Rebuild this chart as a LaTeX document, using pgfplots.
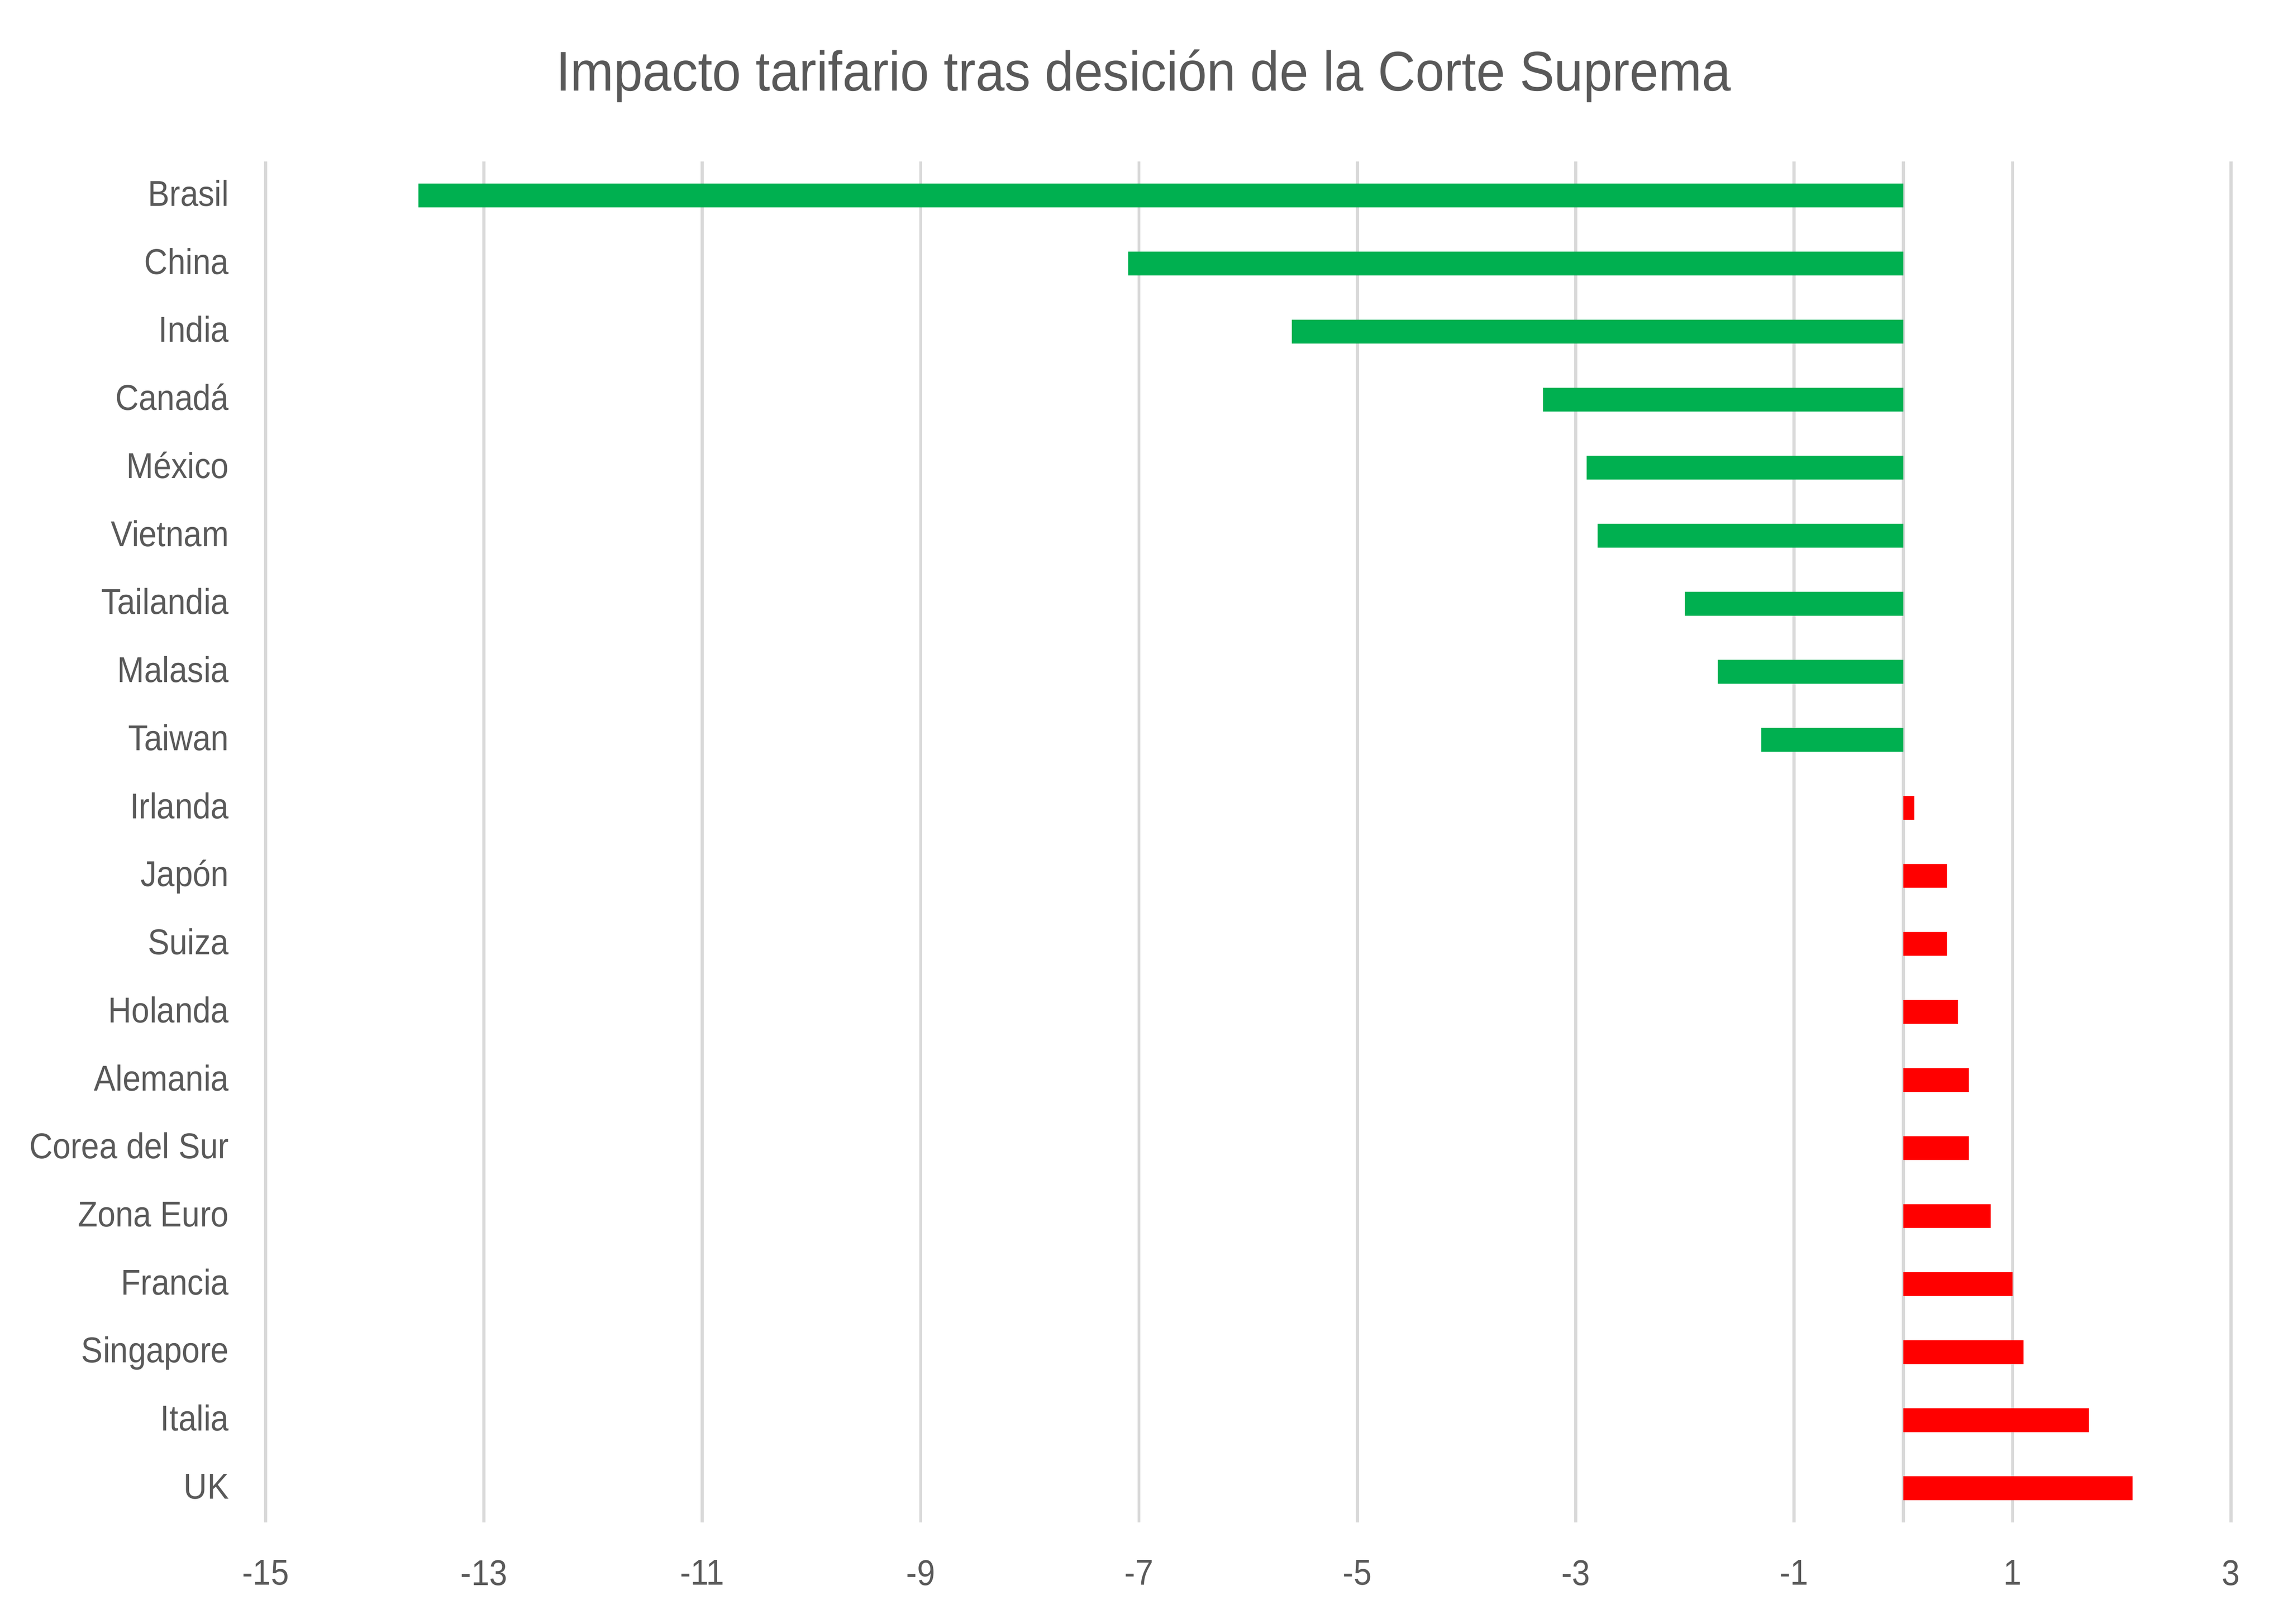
\documentclass[border=0pt]{standalone}
\usepackage{fontspec}
\setmainfont[FakeStretch=0.9]{Liberation Sans}
\newfontfamily\titlefont[FakeStretch=0.93]{Liberation Sans}
\usepackage{pgfplots}
\pgfplotsset{compat=1.18}
\definecolor{xgreen}{HTML}{00B050}
\definecolor{xred}{HTML}{FF0000}
\definecolor{gridgray}{HTML}{D9D9D9}
\definecolor{txt}{HTML}{595959}
\begin{document}
\begin{tikzpicture}
\useasboundingbox (-70.2bp,-26.9bp) rectangle (534.6bp,402.5bp);
\begin{axis}[
  scale only axis, width=519.5bp, height=359.8bp,
  xmin=-15, xmax=3, ymin=-0.5, ymax=19.5, y dir=reverse,
  xtick={-15,-13,-11,-9,-7,-5,-3,-1,1,3},
  xticklabels={-15,-13,-11,-9,-7,-5,-3,-1,1,3},
  extra x ticks={0}, extra x tick labels={},
  extra x tick style={grid=major},
  ytick={0,1,...,19},
  yticklabels={Brasil,China,India,Canadá,México,Vietnam,Tailandia,Malasia,Taiwan,Irlanda,Japón,Suiza,Holanda,Alemania,Corea del Sur,Zona Euro,Francia,Singapore,Italia,UK},
  xmajorgrids=true, ymajorgrids=false,
  major grid style={gridgray, line width=0.8bp},
  axis line style={draw=none},
  major tick length=0pt,
  tick label style={text=txt, font=\fontsize{9.5bp}{11bp}\selectfont, inner sep=0pt},
  xticklabel style={anchor=north, yshift=-9.8bp},
  yticklabel style={anchor=base east, xshift=-9.5bp, yshift=-2.8bp},
  clip=false,
]
\addplot[xbar, bar width=6.3bp, bar shift=0pt, fill=xgreen, draw=none] coordinates {
(-13.6,0) (-7.1,1) (-5.6,2) (-3.3,3) (-2.9,4) (-2.8,5) (-2.0,6) (-1.7,7) (-1.3,8)};
\addplot[xbar, bar width=6.3bp, bar shift=0pt, fill=xred, draw=none] coordinates {
(0.1,9) (0.4,10) (0.4,11) (0.5,12) (0.6,13) (0.6,14) (0.8,15) (1.0,16) (1.1,17) (1.7,18) (2.1,19)};
\end{axis}
\node[anchor=base, text=txt, font=\titlefont\fontsize{14.8bp}{17bp}\selectfont] at (232.1bp,378.5bp) {Impacto tarifario tras desición de la Corte Suprema};
\end{tikzpicture}
\end{document}
